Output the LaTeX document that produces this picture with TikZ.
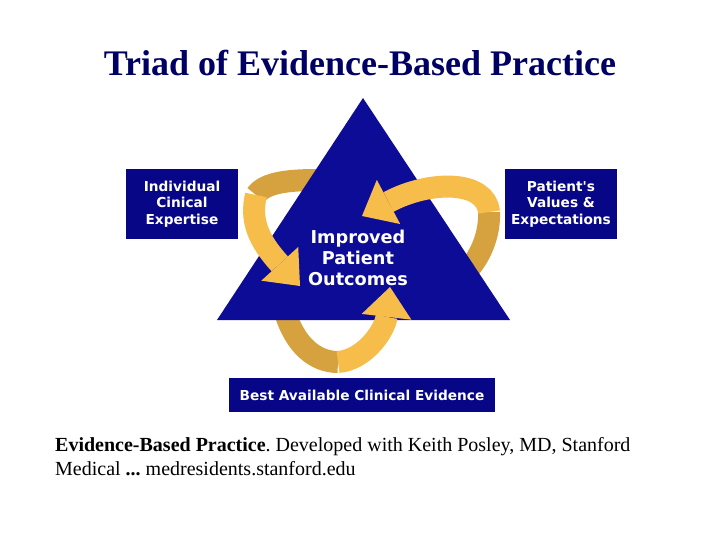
\documentclass[tikz,border=0pt]{standalone}
\usepackage{fontspec}
\setmainfont{Liberation Serif}
\newfontfamily\boxfont{DejaVu Sans}
\usepackage{tikz}
\usetikzlibrary{positioning, arrows.meta}

\definecolor{boxblue}{RGB}{6,6,134}
\definecolor{triblue}{RGB}{12,12,150}
\definecolor{titleblue}{RGB}{0,0,100}
\definecolor{goldlight}{RGB}{247,189,74}
\definecolor{golddark}{RGB}{214,162,64}

\tikzset{
  cornerbox/.style={fill=boxblue, text=white, align=center, inner sep=0pt,
    font=\boxfont\bfseries\fontsize{13.7}{16.5}\selectfont},
  band back/.style={golddark, line width=22pt},
  band front/.style={goldlight, line width=22pt,
    -{Triangle[width=50pt, length=30pt, line width=0pt]}},
}

\begin{document}
\frenchspacing
\begin{tikzpicture}[x=1pt, y=-1pt]
    \useasboundingbox (0,0) rectangle (720,540);

    \node[font=\bfseries\fontsize{36}{40}\selectfont, text=titleblue] (title) at (360,63)
        {Triad of Evidence-Based Practice};

    % corners of the triangle
    \coordinate (apex) at (363,98);
    \coordinate (baseL) at (217,320);
    \coordinate (baseR) at (510,320);

    % ribbon points
    \coordinate (expTail) at (318,180);
    \coordinate (expTwist) at (256,195);
    \coordinate (expTip) at (300,286);
    \coordinate (valTail) at (466,272);
    \coordinate (valTwist) at (489,212);
    \coordinate (valTip) at (362,216);
    \coordinate (evTail) at (285,312);
    \coordinate (evTwist) at (338,362);
    \coordinate (evTip) at (390,287);

    % back side of the ribbons
    \draw[band back] (expTail) .. controls (290,180) and (265,182) .. (expTwist);
    \draw[band back] (valTail) .. controls (480,258) and (490,235) .. (valTwist);
    \draw[band back] (evTail) .. controls (295,345) and (315,362) .. (evTwist);

    \fill[triblue] (apex) -- (baseR) -- (baseL) -- cycle;

    % front side with heads
    \draw[band front] (expTwist) .. controls (250,220) and (258,240) .. (expTip);
    \draw[band front] (valTwist) .. controls (486,180) and (430,180) .. (valTip);
    \draw[band front] (evTwist) .. controls (365,360) and (385,330) .. (evTip);

    \node[text=white, align=center, font=\boxfont\bfseries\fontsize{17.7}{21}\selectfont] (outcomes) at (358,258)
        {Improved\\Patient\\Outcomes};

    \node[cornerbox, minimum width=112pt, minimum height=70pt] (expertise) at (182,204)
        {Individual\\Cinical\\Expertise};
    \node[cornerbox, minimum width=112pt, minimum height=70pt] (values) at (561,204)
        {Patient's\\Values \&\\Expectations};
    \node[cornerbox, minimum width=266pt, minimum height=34pt] (evidence) at (362,395)
        {Best Available Clinical Evidence};

    \node[anchor=north west, align=left, inner sep=0pt, font=\fontsize{20}{24}\selectfont] (caption) at (55,437)
        {\textbf{Evidence-Based Practice}. Developed with Keith Posley, MD, Stanford\\
         Medical \textbf{...} medresidents.stanford.edu};
\end{tikzpicture}
\end{document}
